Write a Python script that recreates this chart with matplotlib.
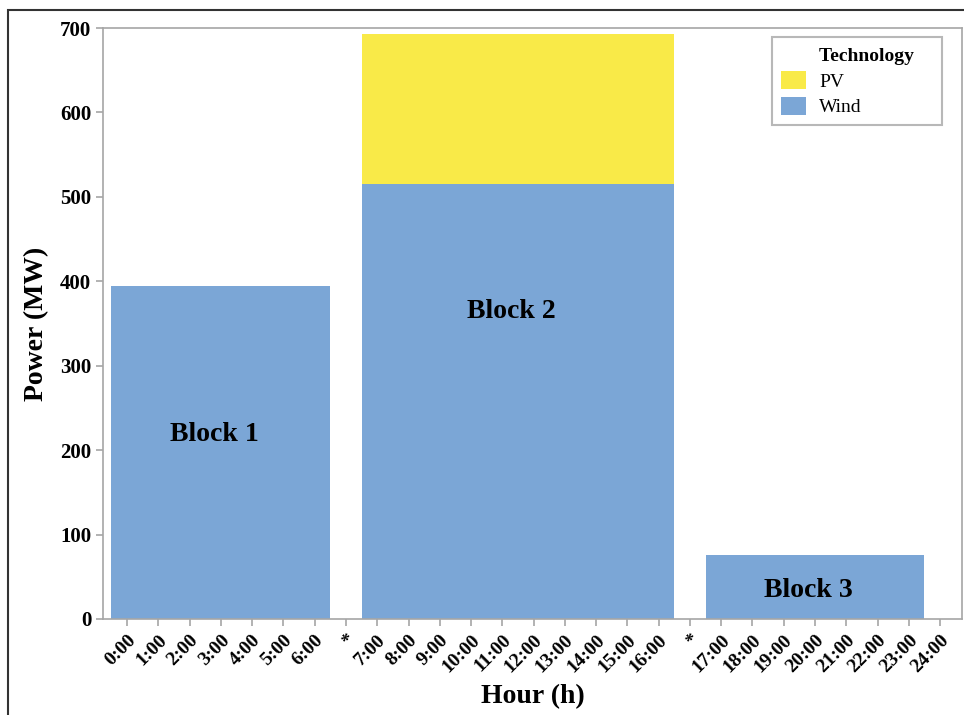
import matplotlib
matplotlib.use("Agg")
import matplotlib.pyplot as plt
from matplotlib.patches import Rectangle, Patch

# ---- data ----
hour_labels = ["0:00", "1:00", "2:00", "3:00", "4:00", "5:00", "6:00", "*",
               "7:00", "8:00", "9:00", "10:00", "11:00", "12:00", "13:00", "14:00",
               "15:00", "16:00", "*",
               "17:00", "18:00", "19:00", "20:00", "21:00", "22:00", "23:00", "24:00"]
block_names = ["Block 1", "Block 2", "Block 3"]
block_first_hour = ["0:00", "7:00", "17:00"]
block_last_hour = ["6:00", "16:00", "23:00"]
wind_mw = [394, 515, 76]
pv_mw = [0, 178, 0]
yticks = [0, 100, 200, 300, 400, 500, 600, 700]

WIND = "#7BA6D6"
PV = "#F9EA48"
GRAY = "#A6A6A6"

plt.rcParams["font.family"] = ["Liberation Serif", "DejaVu Serif"]

fig = plt.figure(figsize=(9.64, 7.15), dpi=100)
ax = fig.add_axes([103/964, 1-619/715, (962-103)/964, (619-28)/715])

pos = list(range(len(hour_labels)))
starts, widths, centers = [], [], []
for a, b in zip(block_first_hour, block_last_hour):
    i0 = hour_labels.index(a)
    i1 = hour_labels.index(b)
    starts.append(i0 - 0.5)
    widths.append(i1 - i0 + 1)
    centers.append((i0 + i1) / 2)

ax.bar(starts, wind_mw, width=widths, align="edge", color=WIND, linewidth=0)
ax.bar(starts, pv_mw, width=widths, bottom=wind_mw, align="edge", color=PV, linewidth=0)

label_y = [218, 364, 34]
for c, name, ly in zip(centers, block_names, label_y):
    ax.text(c - 0.2, ly, name, ha="center", va="center", fontsize=20, fontweight="bold")

ax.set_xlim(-0.77, 26.7)
ax.set_ylim(0, 700)
ax.set_yticks(yticks)
ax.set_yticklabels([str(v) for v in yticks], fontsize=15, fontweight="bold")
ax.set_xticks(pos)
ax.set_xticklabels(hour_labels, rotation=45, ha="right", rotation_mode="anchor",
                   fontsize=14, fontweight="bold")
ax.tick_params(axis="both", color=GRAY, length=5, width=1.2)
ax.tick_params(axis="x", pad=4)
for s in ax.spines.values():
    s.set_color(GRAY)
    s.set_linewidth(1.2)

ax.set_xlabel("Hour (h)", fontsize=20, fontweight="bold", labelpad=6)
ax.set_ylabel("Power (MW)", fontsize=20, fontweight="bold", labelpad=8)

handles = [Patch(facecolor="none", edgecolor="none", label="Technology    "),
           Patch(facecolor=PV, edgecolor="none", label="PV"),
           Patch(facecolor=WIND, edgecolor="none", label="Wind")]
leg = ax.legend(handles=handles, loc="upper right",
                bbox_to_anchor=(0.977, 0.985), borderaxespad=0, fancybox=False,
                edgecolor=GRAY, fontsize=14,
                handlelength=1.3, handleheight=1.05, labelspacing=0.3, borderpad=0.45,
                handletextpad=0.65)
leg.get_texts()[0].set_fontweight("bold")
leg.get_frame().set_linewidth(1.5)

# outer border of the figure image
fig.patches.append(Rectangle((8/964, -0.05), 1.2, (715-10)/715 + 0.05,
                             transform=fig.transFigure, fill=False,
                             edgecolor="#333333", linewidth=1.5))

fig.savefig("out.png", dpi=100)
